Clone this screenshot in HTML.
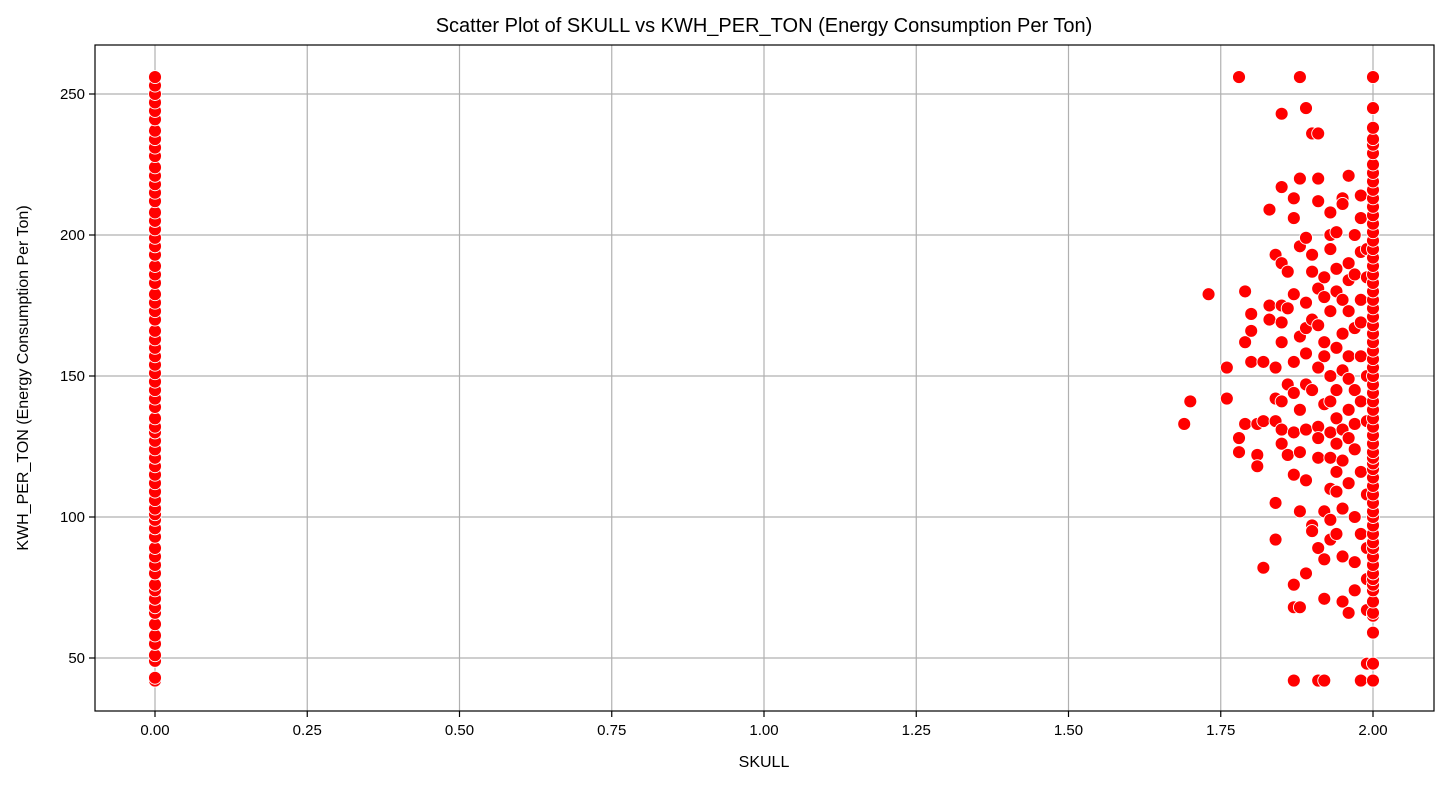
<!DOCTYPE html>
<html><head><meta charset="utf-8"><style>
body{margin:0;background:#fff;}
svg text{font-family:"Liberation Sans","DejaVu Sans",sans-serif;fill:#000;}
</style></head><body>
<svg id="chart" width="1448" height="785">
<rect width="1448" height="785" fill="#fff"/>
<g id="grid"></g><g id="pts"></g>
<rect x="95" y="45" width="1339" height="666" fill="none" stroke="#000" stroke-width="1.2"/>
<g id="ticks"></g>
<text x="764" y="32" font-size="20" text-anchor="middle">Scatter Plot of SKULL vs KWH_PER_TON (Energy Consumption Per Ton)</text>
<text x="764" y="767" font-size="16" text-anchor="middle">SKULL</text>
<text x="28" y="378" font-size="16" text-anchor="middle" transform="rotate(-90 28 378)">KWH_PER_TON (Energy Consumption Per Ton)</text>
</svg>
<script>
const xTicks=[0,0.25,0.5,0.75,1.0,1.25,1.5,1.75,2.0];
const xTickLabels=["0.00","0.25","0.50","0.75","1.00","1.25","1.50","1.75","2.00"];
const yTicks=[50,100,150,200,250];
const yTickLabels=["50","100","150","200","250"];
const col0Values=[42,43,49,51,55,58,62,66,68,71,74,76,80,83,86,89,93,96,99,101,103,106,109,112,115,118,121,124,127,130,132,135,139,142,145,148,151,154,157,160,163,166,170,173,176,179,183,186,189,193,196,199,202,205,208,212,215,218,221,224,228,231,234,237,241,244,247,250,253,256];
const col2Values=[42,48,59,65,66,70,74,76,78,80,83,86,89,91,94,97,100,102,105,108,111,114,117,119,121,123,126,129,132,135,138,141,144,147,150,153,156,159,162,165,168,171,174,177,180,183,186,189,192,195,198,201,204,207,210,213,216,219,222,225,229,232,234,238,245,256];
const clusterX=[1.69,1.70,1.73,1.76,1.76,1.78,1.78,1.79,1.79,1.79,1.80,1.80,1.80,1.81,1.81,1.81,1.82,1.82,1.82,1.83,1.83,1.83,1.84,1.84,1.84,1.84,1.84,1.84,1.85,1.85,1.85,1.85,1.85,1.85,1.85,1.85,1.85,1.86,1.86,1.86,1.86,1.87,1.87,1.87,1.87,1.87,1.87,1.87,1.87,1.87,1.87,1.78,1.88,1.88,1.88,1.88,1.88,1.88,1.88,1.88,1.89,1.89,1.89,1.89,1.89,1.89,1.89,1.89,1.89,1.90,1.90,1.90,1.90,1.90,1.90,1.90,1.91,1.91,1.91,1.91,1.91,1.91,1.91,1.91,1.91,1.91,1.91,1.92,1.92,1.92,1.92,1.92,1.92,1.92,1.92,1.92,1.93,1.93,1.93,1.93,1.93,1.93,1.93,1.93,1.93,1.93,1.93,1.94,1.94,1.94,1.94,1.94,1.94,1.94,1.94,1.94,1.94,1.95,1.95,1.95,1.95,1.95,1.95,1.95,1.95,1.95,1.95,1.96,1.96,1.96,1.96,1.96,1.96,1.96,1.96,1.96,1.96,1.97,1.97,1.97,1.97,1.97,1.97,1.97,1.97,1.97,1.98,1.98,1.98,1.98,1.98,1.98,1.98,1.98,1.98,1.98,1.99,1.99,1.99,1.99,1.99,1.99,1.99,1.99,1.99];
const clusterY=[133,141,179,153,142,128,123,133,162,180,172,166,155,133,122,118,82,155,134,175,209,170,193,153,142,134,92,105,243,217,190,175,169,162,141,131,126,174,187,147,122,76,68,42,206,213,179,155,144,130,115,256,256,196,164,138,123,102,68,220,245,199,176,167,158,147,131,113,80,193,187,170,145,97,95,236,236,220,212,181,168,153,132,128,121,89,42,185,178,162,157,140,102,85,71,42,208,200,195,173,150,141,130,121,110,99,92,201,188,180,160,145,135,126,116,109,94,213,211,177,165,152,131,120,103,86,70,221,190,184,173,157,149,138,128,112,66,200,186,167,145,133,124,100,84,74,214,206,194,177,169,157,141,116,94,42,195,185,150,134,108,89,78,48,67];
const NS="http://www.w3.org/2000/svg";
const L=95,R=1434,T=45,B=711;
const xs=v=>155+v*609;
const ys=v=>94+(250-v)*2.82;
const grid=document.getElementById('grid'),ticks=document.getElementById('ticks'),pts=document.getElementById('pts');
function mk(tag,a,p){const e=document.createElementNS(NS,tag);for(const k in a)e.setAttribute(k,a[k]);p.appendChild(e);return e;}
xTicks.forEach((v,i)=>{const x=xs(v);
const g=mk('line',{x1:x,x2:x,y1:T,y2:B,stroke:'#b0b0b0','stroke-width':1.2},grid);


const t=mk('line',{x1:x,x2:x,y1:B,y2:B+6,stroke:'#000','stroke-width':1.2},ticks);


const tx=mk('text',{x:x,y:B+24,'font-size':15,'text-anchor':'middle'},ticks);tx.textContent=xTickLabels[i];

});
yTicks.forEach((v,i)=>{const y=ys(v);
const g=mk('line',{x1:L,x2:R,y1:y,y2:y,stroke:'#b0b0b0','stroke-width':1.2},grid);


const t=mk('line',{x1:L-6,x2:L,y1:y,y2:y,stroke:'#000','stroke-width':1.2},ticks);


const tx=mk('text',{x:L-10,y:y+5,'font-size':15,'text-anchor':'end'},ticks);tx.textContent=yTickLabels[i];

});
function dot(x,y){const c=mk('circle',{cx:xs(x),cy:ys(y),r:6.5,fill:'#ff0000',stroke:'#fff','stroke-width':0.9},pts);

}
col0Values.forEach(v=>dot(0,v));
clusterX.forEach((x,i)=>dot(x,clusterY[i]));
col2Values.forEach(v=>dot(2,v));
</script>
</body></html>
